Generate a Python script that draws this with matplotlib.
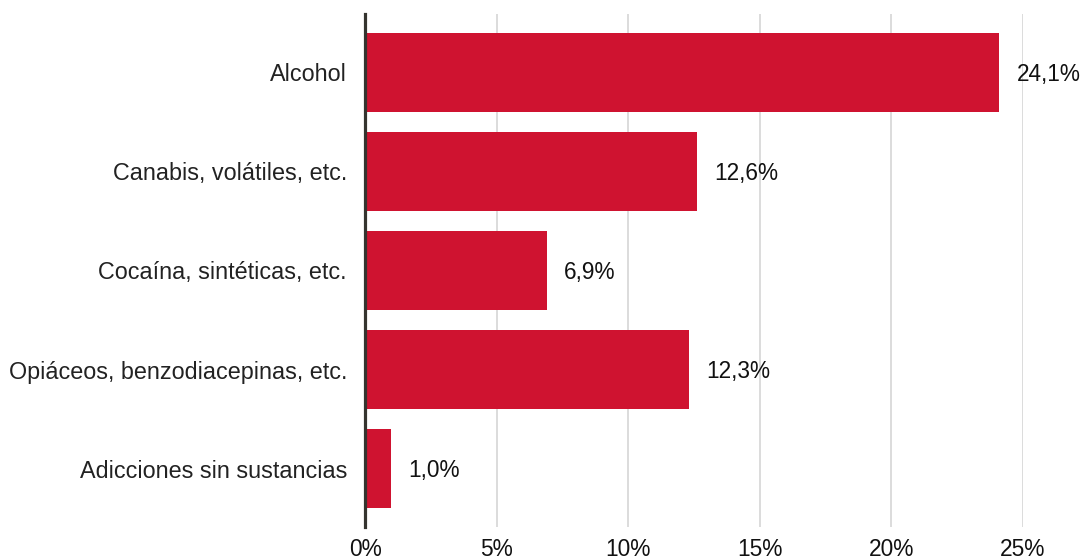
import matplotlib
matplotlib.use("Agg")
import matplotlib.pyplot as plt

categories = ["Alcohol", "Canabis, volátiles, etc.", "Cocaína, sintéticas, etc.",
              "Opiáceos, benzodiacepinas, etc.", "Adicciones sin sustancias"]
values = [24.1, 12.6, 6.9, 12.3, 1.0]
x_ticks = [0, 5, 10, 15, 20, 25]
x_tick_labels = ["0%", "5%", "10%", "15%", "20%", "25%"]

plt.rcParams["font.family"] = ["Liberation Sans", "DejaVu Sans"]

fig = plt.figure(figsize=(10.84, 5.57), dpi=100)
ax = fig.add_axes([365 / 1084, 1 - 527 / 557, (1023 - 365) / 1084, 513 / 557])

pos = list(range(len(categories)))
ax.barh(pos, values, height=0.79, color="#CF1330", zorder=3)
for p, v in zip(pos, values):
    ax.text(v + 0.66, p + 0.02, f"{v:.1f}".replace(".", ",") + "%", va="center", ha="left",
            fontsize=16.3, color="#111111", zorder=4)

ax.set_xlim(0, 25)
ax.set_ylim(len(categories) - 1 + 0.59, -0.59)
ax.set_yticks(pos)
ax.set_yticklabels(categories, fontsize=16.8, color="#222222")
ax.set_xticks(x_ticks)
ax.set_xticklabels(x_tick_labels, fontsize=16.4, color="#111111")
ax.tick_params(axis="both", length=0)
ax.tick_params(axis="y", pad=13)
ax.tick_params(axis="x", pad=8)

ax.grid(axis="x", color="#d9d9d9", linewidth=1.3, zorder=0)
for s in ["top", "right", "bottom"]:
    ax.spines[s].set_visible(False)
ax.spines["left"].set_color("#35342f")
ax.spines["left"].set_linewidth(2.3)
ax.spines["left"].set_zorder(5)

fig.savefig("out.png", dpi=100)
